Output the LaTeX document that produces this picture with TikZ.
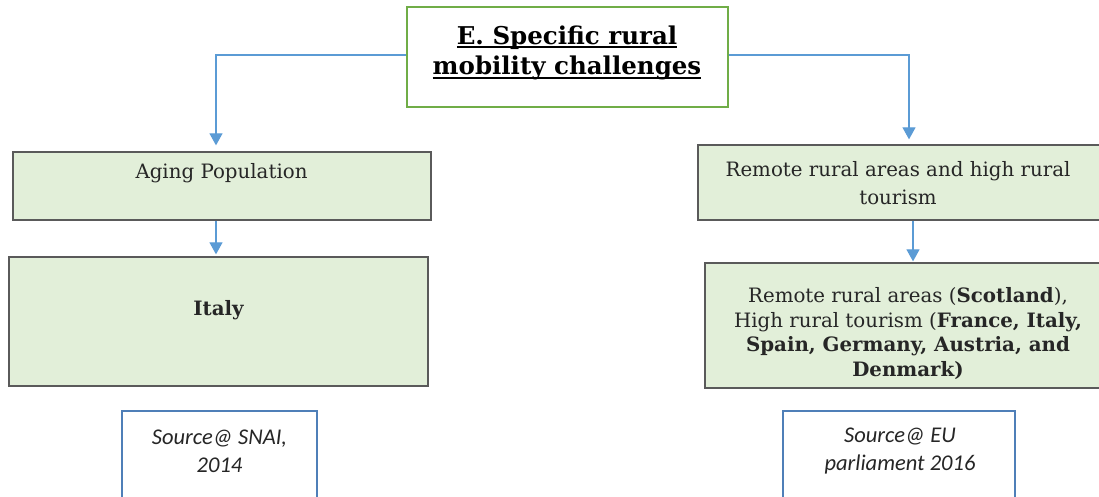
\documentclass[tikz,border=0pt]{standalone}
\usepackage{fontspec}
\setmainfont{DejaVu Serif}
\newfontfamily\srcfont{Carlito}
\usetikzlibrary{arrows.meta}

\definecolor{boxfill}{HTML}{E2EFD9}
\definecolor{boxline}{HTML}{5A5A5A}
\definecolor{titlegreen}{HTML}{70AD47}
\definecolor{srcblue}{HTML}{4F7FB8}
\definecolor{arrblue}{HTML}{5B9BD5}
\definecolor{ink}{HTML}{262626}

% underline drawn at a fixed depth, crossing the descenders
\newcommand\headline[1]{\setbox0\hbox{#1}\rlap{\rule[-0.15em]{\wd0}{0.07em}}\box0}

\tikzset{
  greenbox/.style={draw=boxline, line width=1.3pt, fill=boxfill, inner sep=0pt},
  titlebox/.style={draw=titlegreen, line width=1.8pt, fill=white, inner sep=0pt},
  srcbox/.style={draw=srcblue, line width=1.3pt, fill=white, inner sep=0pt},
  arr/.style={draw=arrblue, line width=1.2pt, -{Triangle[width=13pt,length=12pt]}},
  body/.style={font=\fontsize{19.8}{27.5}\selectfont, align=center, text=ink, inner sep=0pt},
  srctext/.style={font=\srcfont\itshape\fontsize{22.5}{28}\selectfont, align=center, text=ink, inner sep=0pt},
}

\begin{document}
\begin{tikzpicture}[x=1pt,y=-1pt]
\useasboundingbox (0,0) rectangle (1099,497);
\clip (0,0) rectangle (1099,497);

% boxes
\node[titlebox, minimum width=321pt, minimum height=100pt] (title) at (567.5,57) {};
\node[greenbox, minimum width=418pt, minimum height=68pt] (aging) at (222,186) {};
\node[greenbox, minimum width=419pt, minimum height=129pt] (italy) at (218.5,321.5) {};
\node[greenbox, minimum width=412pt, minimum height=75pt] (remote) at (904,182.5) {};
\node[greenbox, minimum width=405pt, minimum height=125pt] (countries) at (907.5,325.5) {};
\node[srcbox, minimum width=195pt, minimum height=110pt] (snai) at (219.5,466) {};
\node[srcbox, minimum width=232pt, minimum height=110pt] (eup) at (899,466) {};

% texts
\node[font=\bfseries\fontsize{24.5}{30.5}\selectfont, align=center, inner sep=0pt] (titletext) at (567,53)
  {\headline{E. Specific rural}\\\headline{mobility challenges}};
\node[body] (agingtext) at (221.5,173) {Aging Population};
\node[body] (italytext) at (218.5,310) {\bfseries Italy};
\node[body] (remotetext) at (898,183) {Remote rural areas and high rural\\tourism};
\node[body, font=\fontsize{19.8}{24.5}\selectfont] (countriestext) at (908,333.5)
  {Remote rural areas (\textbf{Scotland}),\\High rural tourism (\textbf{France, Italy,}\\\textbf{Spain, Germany, Austria, and}\\\textbf{Denmark)}};
\node[srctext] (snaitext) at (219.5,451) {Source@ SNAI,\\2014};
\node[srctext] (euptext) at (900,451) {Source@ EU\\parliament 2016};

% connectors
\draw[arr, shorten >=6pt] ([yshift=2pt]title.west) -| ([xshift=-6pt]aging.north);
\draw[arr, shorten >=5pt] ([yshift=2pt]title.east) -| ([xshift=5pt]remote.north);
\draw[arr, shorten >=2pt] ([xshift=-6pt]aging.south) -- ([xshift=-6pt]aging.south |- italy.north);
\draw[arr, shorten >=1pt] ([xshift=9pt]remote.south) -- ([xshift=9pt]remote.south |- countries.north);
\end{tikzpicture}
\end{document}
